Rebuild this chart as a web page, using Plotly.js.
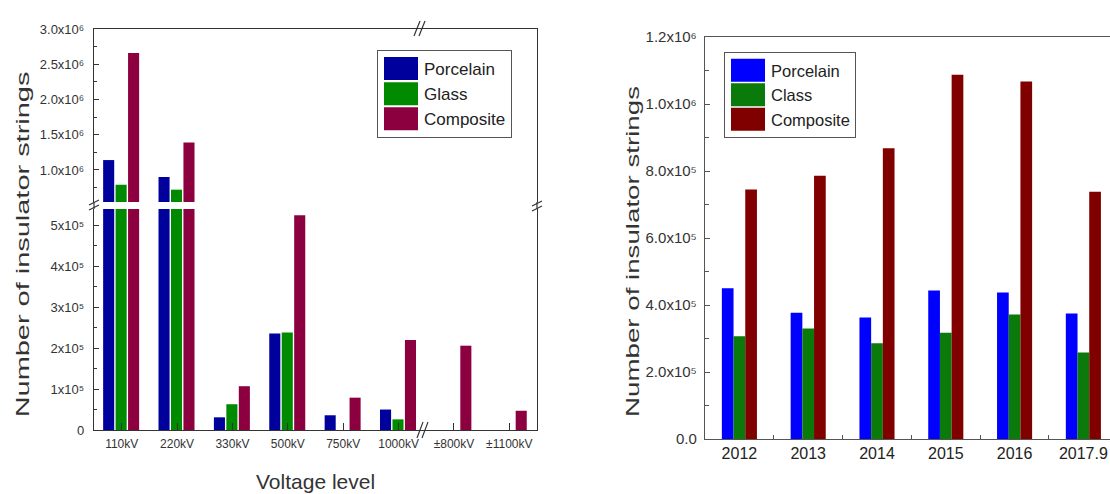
<!DOCTYPE html>
<html>
<head>
<meta charset="utf-8">
<script src="https://cdn.plot.ly/plotly-3.0.1.min.js"></script>
<style>
html,body{margin:0;padding:0;background:#fff;overflow:hidden;}
#chart{width:1110px;height:494px;}
</style>
</head>
<body>
<div id="chart"></div>
<script>
// ---- Data: left panel (by voltage level) ----
const voltageLevels = ['110kV','220kV','330kV','500kV','750kV','1000kV','±800kV','±1100kV'];
const porcelainByVoltage = [1140000, 900000, 31000, 236000, 36000, 50000, 0, 0];
const glassByVoltage     = [790000, 720000, 63000, 238000, 0, 26000, 0, 0];
const compositeByVoltage = [2660000, 1390000, 107000, 525000, 79000, 220000, 206000, 47000];

// ---- Data: right panel (by year) ----
const years = ['2012','2013','2014','2015','2016','2017.9'];
const porcelainByYear = [450000, 377000, 363000, 443000, 437000, 375000];
const classByYear     = [307000, 330000, 286000, 317000, 372000, 258000];
const compositeByYear = [745000, 786000, 868000, 1087000, 1067000, 738000];

// ---- Tick labels ----
const lowerTickVals = [0, 100000, 200000, 300000, 400000, 500000];
const lowerTickText = ['0','1x10⁵','2x10⁵','3x10⁵','4x10⁵','5x10⁵'];
const upperTickVals = [1000000, 1500000, 2000000, 2500000, 3000000];
const upperTickText = ['1.0x10⁶','1.5x10⁶','2.0x10⁶','2.5x10⁶','3.0x10⁶'];
const rightTickVals = [0, 200000, 400000, 600000, 800000, 1000000, 1200000];
const rightTickText = ['0.0','2.0x10⁵','4.0x10⁵','6.0x10⁵','8.0x10⁵','1.0x10⁶','1.2x10⁶'];

function steps(a, b, s){ const o=[]; for(let v=a; v<=b+1e-6; v+=s) o.push(v); return o; }

const FONT = 'Liberation Sans, Arial, sans-serif';
const leftColors = {p:'#00009c', g:'#008a00', c:'#8c0040'};
const rightColors = {p:'#0000ff', g:'#0a7a0a', c:'#800000'};

const LW = 0.2, LO = [-0.335, -0.11, 0.115];
const RW = 0.17, RO = [-0.255, -0.085, 0.085];

function leftBar(name, y, color, i, lower){
  return {type:'bar', name:name, x:voltageLevels, y:y,
    xaxis: lower ? 'x' : 'x2', yaxis: lower ? 'y' : 'y2',
    marker:{color:color, line:{width:0}}, width:LW, offset:LO[i],
    showlegend: lower, legend:'legend', legendgroup:'L'+name};
}
function rightBar(name, y, color, i){
  return {type:'bar', name:name, x:years, y:y, xaxis:'x3', yaxis:'y3',
    marker:{color:color, line:{width:0}}, width:RW, offset:RO[i], legend:'legend2'};
}

const traces = [
  leftBar('Porcelain', porcelainByVoltage, leftColors.p, 0, true),
  leftBar('Glass', glassByVoltage, leftColors.g, 1, true),
  leftBar('Composite', compositeByVoltage, leftColors.c, 2, true),
  leftBar('Porcelain', porcelainByVoltage, leftColors.p, 0, false),
  leftBar('Glass', glassByVoltage, leftColors.g, 1, false),
  leftBar('Composite', compositeByVoltage, leftColors.c, 2, false),
  rightBar('Porcelain', porcelainByYear, rightColors.p, 0),
  rightBar('Class', classByYear, rightColors.g, 1),
  rightBar('Composite', compositeByYear, rightColors.c, 2)
];

const W = 1110, H = 494;
const px = v => v / W, py = v => 1 - v / H;
const axisLine = '#333';
const tickFont = {family: FONT, size: 13, color: '#333'};

const layout = {
  width: W, height: H,
  margin: {l:0, r:0, t:0, b:0},
  paper_bgcolor: '#fff', plot_bgcolor: '#fff',
  font: {family: FONT, color: '#333'},
  barmode: 'group',
  xaxis: {domain:[px(94), px(537)], anchor:'y', type:'category', range:[-0.5, 7.5],
    showline:true, linecolor:axisLine, linewidth:1.2, ticks:'inside', ticklen:7, tickcolor:axisLine,
    showgrid:false, zeroline:false, tickfont:{family: FONT, size: 12, color: '#333'}, ticklabelstandoff:2},
  xaxis2: {domain:[px(94), px(537)], anchor:'y2', type:'category', matches:'x', side:'top',
    showline:true, linecolor:axisLine, linewidth:1.2, ticks:'', showticklabels:false,
    showgrid:false, zeroline:false},
  yaxis: {domain:[py(430), py(209)], anchor:'x', range:[0, 540000],
    showline:true, mirror:true, linecolor:axisLine, linewidth:1.2, ticks:'inside', ticklen:5, tickcolor:axisLine,
    tickmode:'array', tickvals:lowerTickVals, ticktext:lowerTickText, ticklabelstandoff:6,
    minor:{tickmode:'array', tickvals:steps(50000, 500000, 100000), ticks:'inside', ticklen:3, tickcolor:axisLine},
    showgrid:false, zeroline:false, tickfont:tickFont},
  yaxis2: {domain:[py(202), py(29)], anchor:'x2', range:[545000, 3000000],
    showline:true, mirror:true, linecolor:axisLine, linewidth:1.2, ticks:'inside', ticklen:5, tickcolor:axisLine,
    tickmode:'array', tickvals:upperTickVals, ticktext:upperTickText, ticklabelstandoff:6,
    minor:{tickmode:'array', tickvals:steps(750000, 2750000, 500000), ticks:'inside', ticklen:3, tickcolor:axisLine},
    showgrid:false, zeroline:false, tickfont:tickFont},
  xaxis3: {domain:[px(705), 1], anchor:'y3', type:'category', range:[-0.5, 5.387],
    showline:true, mirror:true, linecolor:'#555', linewidth:1.2, ticks:'inside', ticklen:4, tickcolor:'#555',
    tickson:'boundaries', showgrid:false, zeroline:false,
    tickfont:{family: FONT, size: 16, color: '#222'}},
  yaxis3: {domain:[py(439), py(37)], anchor:'x3', range:[0, 1200000],
    showline:true, mirror:false, linecolor:'#555', linewidth:1.2, ticks:'inside', ticklen:5, tickcolor:'#555',
    tickmode:'array', tickvals:rightTickVals, ticktext:rightTickText, ticklabelstandoff:4,
    minor:{tickmode:'array', tickvals:steps(100000, 1100000, 200000), ticks:'inside', ticklen:4, tickcolor:'#555'},
    showgrid:false, zeroline:false, tickfont:{family: FONT, size: 15, color: '#333'}},
  legend: {x:px(377), y:py(50), xanchor:'left', yanchor:'top', bgcolor:'#fff',
    bordercolor:'#555', borderwidth:1, font:{family:FONT, size:17, color:'#222'},
    itemwidth:36, tracegroupgap:0},
  legend2: {x:px(724), y:py(52), xanchor:'left', yanchor:'top', bgcolor:'#fff',
    bordercolor:'#555', borderwidth:1, font:{family:FONT, size:16.5, color:'#222'},
    itemwidth:36, tracegroupgap:0},
  annotations: [
    {text:'Number of insulator strings', xref:'paper', yref:'paper', x:px(22), y:py(245),
      xanchor:'center', yanchor:'middle',
      textangle:-90, showarrow:false, font:{family:FONT, size:19, color:'#333'}},
    {text:'Number of insulator strings', xref:'paper', yref:'paper', x:px(632), y:py(252),
      xanchor:'center', yanchor:'middle',
      textangle:-90, showarrow:false, font:{family:FONT, size:19, color:'#333'}},
    {text:'Voltage level', xref:'paper', yref:'paper', x:px(315), y:py(481),
      xanchor:'center', yanchor:'middle',
      showarrow:false, font:{family:FONT, size:21, color:'#333'}}
  ],
  shapes: [
    // break marks on left axis
    {type:'line', xref:'paper', yref:'paper', x0:px(89), y0:py(205), x1:px(99), y1:py(200), line:{color:axisLine, width:1.2}},
    {type:'line', xref:'paper', yref:'paper', x0:px(89), y0:py(210), x1:px(99), y1:py(205), line:{color:axisLine, width:1.2}},
    {type:'line', xref:'paper', yref:'paper', x0:px(94), y0:py(202), x1:px(94), y1:py(209), line:{color:axisLine, width:1.2}},
    // break marks on right border
    {type:'line', xref:'paper', yref:'paper', x0:px(532), y0:py(206), x1:px(542), y1:py(201), line:{color:axisLine, width:1.2}},
    {type:'line', xref:'paper', yref:'paper', x0:px(532), y0:py(211), x1:px(542), y1:py(206), line:{color:axisLine, width:1.2}},
    {type:'line', xref:'paper', yref:'paper', x0:px(537), y0:py(202), x1:px(537), y1:py(209), line:{color:axisLine, width:1.2}},
    // break marks on top border
    {type:'line', xref:'paper', yref:'paper', x0:px(414), y0:py(36), x1:px(420), y1:py(21), line:{color:axisLine, width:1.2}},
    {type:'line', xref:'paper', yref:'paper', x0:px(419), y0:py(36), x1:px(425), y1:py(21), line:{color:axisLine, width:1.2}},
    // break marks on bottom axis
    {type:'line', xref:'paper', yref:'paper', x0:px(417), y0:py(438), x1:px(423), y1:py(422), line:{color:axisLine, width:1.2}},
    {type:'line', xref:'paper', yref:'paper', x0:px(422), y0:py(438), x1:px(428), y1:py(422), line:{color:axisLine, width:1.2}}
  ]
};

Plotly.newPlot('chart', traces, layout, {displayModeBar:false, staticPlot:true}).then(function(gd){
  // enlarge the legend swatches to match the wide colour blocks of the original
  gd.querySelectorAll('.legendpoints path').forEach(function(p){
    p.setAttribute('d', 'M-17,-11.5H17V11.5H-17Z');
  });
  // the original's rotated axis titles are drawn tall and narrow: stretch them along their length
  const targetLen = [346, 331];
  gd.querySelectorAll('.annotation-text').forEach(function(t, i){
    if (i > 1) return;
    const bb = t.getBBox();
    const cx = bb.x + bb.width / 2;
    const k = targetLen[i] / bb.width;
    t.setAttribute('transform', 'translate(' + cx + ',0) scale(' + k + ',1) translate(' + (-cx) + ',0)');
  });
});
</script>
</body>
</html>
